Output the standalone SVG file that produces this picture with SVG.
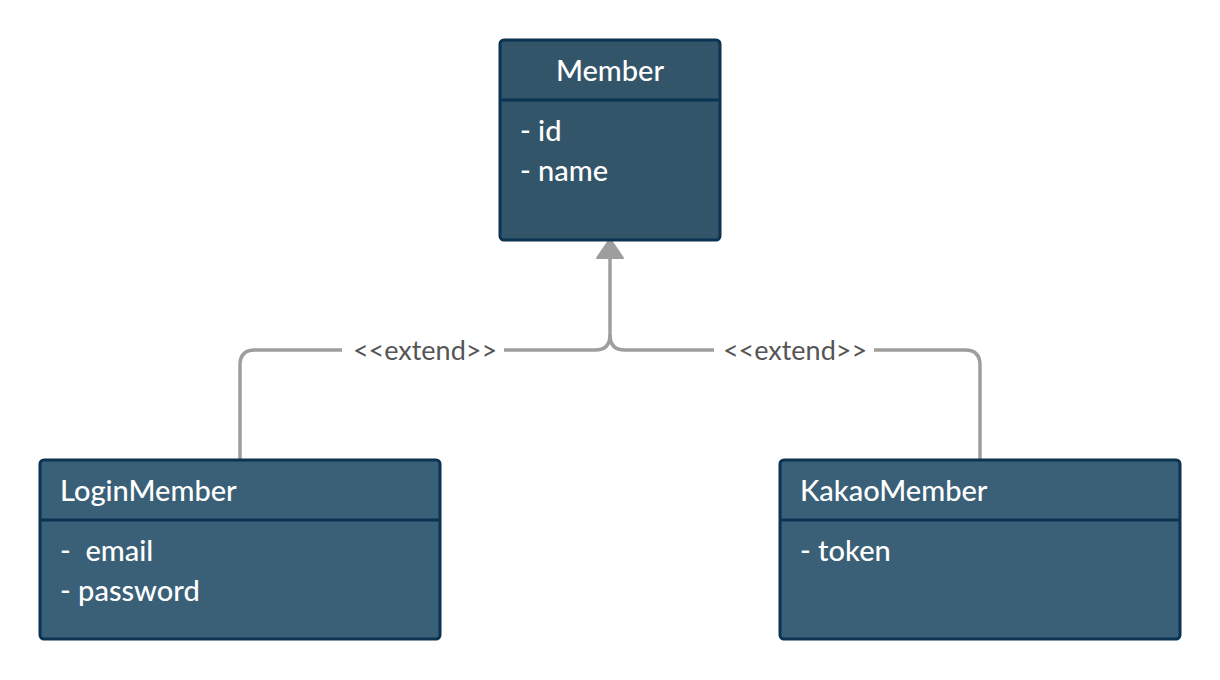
<svg xmlns="http://www.w3.org/2000/svg" width="1220" height="680" viewBox="0 0 1220 680">
<defs>
<style>
.box{stroke:#0b3352;stroke-width:3}
.top{fill:#33556a}
.sub{fill:#3a6078}
.div{stroke:#0b3352;stroke-width:3}
.t{font-family:Lato,"Noto Sans",sans-serif;font-size:29px;fill:#ffffff;font-weight:500}
.conn{fill:none;stroke:#9e9e9e;stroke-width:3.5}
.lbl{font-family:Lato,"Noto Sans",sans-serif;font-size:27px;fill:#555555}
</style>
</defs>
<rect width="1220" height="680" fill="#ffffff"/>
<g id="connectors">
<path class="conn" d="M240 459 V365 Q240 350 255 350 H342"/>
<path class="conn" d="M504 350 H595 Q610 350 610 335 V256"/>
<path class="conn" d="M980 459 V365 Q980 350 965 350 H874"/>
<path class="conn" d="M714 350 H625 Q610 350 610 335"/>
<polygon points="610,239 623,258 597,258" fill="#9e9e9e" stroke="#9e9e9e" stroke-width="2" stroke-linejoin="round"/>
<text class="lbl" x="425" y="360" text-anchor="middle">&lt;&lt;extend&gt;&gt;</text>
<text class="lbl" x="795" y="360" text-anchor="middle">&lt;&lt;extend&gt;&gt;</text>
</g>
<g id="member">
<rect class="box top" x="500" y="40" width="220" height="200" rx="4"/>
<line class="div" x1="500" y1="100" x2="720" y2="100"/>
<text class="t" x="610" y="81" text-anchor="middle">Member</text>
<text class="t" x="520" y="141">- id</text>
<text class="t" x="520" y="181">- name</text>
</g>
<g id="loginmember">
<rect class="box sub" x="40" y="460" width="400" height="179" rx="4"/>
<line class="div" x1="40" y1="520" x2="440" y2="520"/>
<text class="t" x="60" y="501">LoginMember</text>
<text class="t" x="60" y="561" xml:space="preserve">-  email</text>
<text class="t" x="60" y="601">- password</text>
</g>
<g id="kakaomember">
<rect class="box sub" x="780" y="460" width="400" height="179" rx="4"/>
<line class="div" x1="780" y1="520" x2="1180" y2="520"/>
<text class="t" x="800" y="501">KakaoMember</text>
<text class="t" x="800" y="561">- token</text>
</g>
</svg>
